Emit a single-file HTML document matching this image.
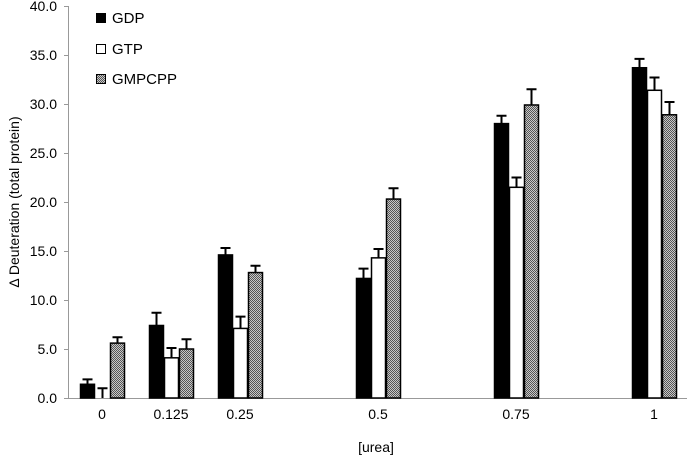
<!DOCTYPE html>
<html><head><meta charset="utf-8"><style>
body{margin:0;background:#fff;}
svg text{font-family:"Liberation Sans",Arial,sans-serif;fill:#000;}
</style></head><body>
<svg id="chart" width="687" height="459" xmlns="http://www.w3.org/2000/svg">
<defs>
<pattern id="chk" width="2" height="2" patternUnits="userSpaceOnUse">
<rect width="2" height="2" fill="#c8c8c8"/><rect width="1" height="1" fill="#555"/><rect x="1" y="1" width="1" height="1" fill="#555"/>
</pattern>
</defs>
<g id="axes"></g>
<g id="bars"></g>
<g>
<rect x="96" y="13" width="10" height="10" fill="#000"/>
<text x="112" y="23" font-size="15">GDP</text>
<rect x="96.5" y="44.5" width="9" height="9" fill="#fff" stroke="#000"/>
<text x="112" y="54" font-size="15">GTP</text>
<rect x="96.5" y="74.5" width="9" height="9" fill="url(#chk)" stroke="#000"/>
<text x="112" y="84" font-size="15">GMPCPP</text>
</g>
<text x="376" y="452" font-size="14" text-anchor="middle">[urea]</text>
<text transform="translate(19,202) rotate(-90)" font-size="14" text-anchor="middle">Δ Deuteration (total protein)</text>
</svg>
<script>
const categories=[0,0.125,0.25,0.5,0.75,1];
const catLabels=["0","0.125","0.25","0.5","0.75","1"];
const gdp=[1.4,7.4,14.6,12.2,28.0,33.7];
const gdpErr=[0.5,1.3,0.7,1.0,0.8,0.9];
const gtp=[0,4.1,7.1,14.3,21.5,31.4];
const gtpErr=[1.0,1.0,1.2,0.9,1.0,1.3];
const gmpcpp=[5.6,5.0,12.8,20.3,29.9,28.9];
const gmpcppErr=[0.6,1.0,0.7,1.1,1.6,1.3];
const yTicks=[0,5,10,15,20,25,30,35,40];
const NS="http://www.w3.org/2000/svg";
const x=v=>102+v*552;
const y=v=>398-v*9.8;
function mk(tag,attrs,parent){const e=document.createElementNS(NS,tag);for(const k in attrs)e.setAttribute(k,attrs[k]);parent.appendChild(e);return e;}
const axes=document.getElementById('axes'),bars=document.getElementById('bars');
let l=mk('line',{x1:68.5,y1:y(40),x2:68.5,y2:398.5,stroke:'#999'},axes);


l=mk('line',{x1:68,y1:398.5,x2:687,y2:398.5,stroke:'#999'},axes);


yTicks.forEach(t=>{
 const tk=mk('line',{x1:64,x2:68,y1:Math.round(y(t))+0.5,y2:Math.round(y(t))+0.5,stroke:'#999'},axes);
 
 
 const tx=mk('text',{x:57,y:y(t)+5,'font-size':14,'text-anchor':'end'},axes);
 tx.textContent=t.toFixed(1);
 
 
});
categories.forEach((c,i)=>{
 const tx=mk('text',{x:x(c),y:419,'font-size':14,'text-anchor':'middle'},axes);
 tx.textContent=catLabels[i];
 
 
});
const series=[[gdp,gdpErr,'#000','gdp',-22],[gtp,gtpErr,'#fff','gtp',-7],[gmpcpp,gmpcppErr,'url(#chk)','gmpcpp',8]];
series.forEach(([vals,errs,fill,nm,off])=>{
 categories.forEach((c,i)=>{
  const bx=x(c)+off, top=y(vals[i]);
  const eTop=y(vals[i]+errs[i]);
  const cx=bx+7.5;
  const st=mk('path',{d:`M${cx} ${top} V${eTop} M${cx-5} ${eTop} H${cx+5}`,stroke:'#000','stroke-width':2,fill:'none'},bars);
  
  
  if(vals[i]>0){
   const r=mk('rect',{x:bx+0.5,y:top,width:14,height:398-top,fill:fill,stroke:'#000','stroke-width':1.5},bars);
   
   
  }
 });
});
</script>
</body></html>
